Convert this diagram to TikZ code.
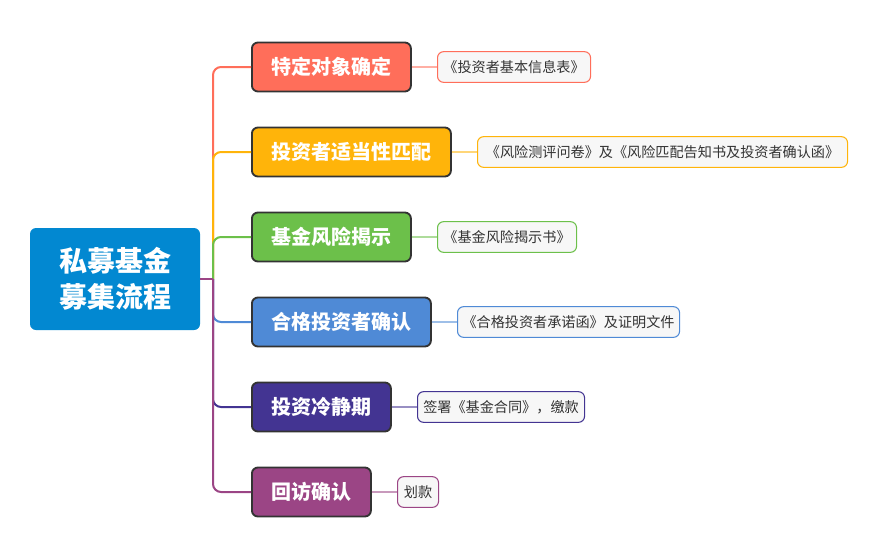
\documentclass[tikz,border=0pt]{standalone}
\usepackage{fontspec}
\newfontfamily\cjk{Noto Sans CJK SC}
\definecolor{rootc}{HTML}{0288D1}
\definecolor{c1}{HTML}{FF6E5A}
\definecolor{c2}{HTML}{FFB40A}
\definecolor{c3}{HTML}{6CC04A}
\definecolor{c4}{HTML}{4F8AD6}
\definecolor{c5}{HTML}{433492}
\definecolor{c6}{HTML}{9B4585}
\definecolor{leaffill}{HTML}{F7F7F7}
\definecolor{leaftext}{HTML}{333333}
\definecolor{bord}{HTML}{333333}
\begin{document}
\begin{tikzpicture}[x=0.75pt,y=-0.75pt,
  rootbox/.style={fill=rootc, rounded corners=4.5pt, minimum width=127.5pt, minimum height=76.5pt,
    text=white, font=\cjk\bfseries\fontsize{21}{27}\selectfont, align=center, inner sep=0pt},
  branchbox/.style={draw=bord, fill=#1, line width=1.4pt, rounded corners=4.5pt, minimum height=36.75pt,
    text=white, font=\cjk\bfseries\fontsize{15}{18}\selectfont, inner sep=0pt, anchor=west},
  leafbox/.style={draw=#1, fill=leaffill, line width=0.8pt, rounded corners=4.5pt, minimum height=23pt,
    text=leaftext, font=\cjk\fontsize{10.6}{12}\selectfont, inner sep=0pt, anchor=west},
  spine/.style={draw=#1, line width=1.5pt, rounded corners=6pt},
  twig/.style={draw=#1!55, line width=1.5pt}
]
\useasboundingbox (0,0) rectangle (895,546);

\node[rootbox] (root) at (115,279) {私募基金\\募集流程};
\coordinate (j) at (213,279);

\node[branchbox=c1, minimum width=119.25pt] (b1) at (251,67) {特定对象确定};
\node[branchbox=c2, minimum width=149.25pt] (b2) at (251,152) {投资者适当性匹配};
\node[branchbox=c3, minimum width=119.25pt] (b3) at (251,237) {基金风险揭示};
\node[branchbox=c4, minimum width=134.25pt] (b4) at (251,322) {合格投资者确认};
\node[branchbox=c5, minimum width=104.25pt] (b5) at (251,407) {投资冷静期};
\node[branchbox=c6, minimum width=89.25pt] (b6) at (251,492) {回访确认};

\node[leafbox=c1, minimum width=114.75pt] (l1) at (437,67) {《投资者基本信息表》};
\node[leafbox=c2, minimum width=277.5pt] (l2) at (477,152) {《风险测评问卷》及《风险匹配告知书及投资者确认函》};
\node[leafbox=c3, minimum width=104.25pt] (l3) at (437,237) {《基金风险揭示书》};
\node[leafbox=c4, minimum width=166.5pt] (l4) at (457,322) {《合格投资者承诺函》及证明文件};
\node[leafbox=c5, minimum width=125.25pt] (l5) at (417,407) {签署《基金合同》，缴款};
\node[leafbox=c6, minimum width=30.75pt] (l6) at (397,492) {划款};

\draw[spine=c1] (j) |- (b1.west);
\draw[spine=c2] (j) |- (b2.west);
\draw[spine=c3] (j) |- (b3.west);
\draw[spine=c4] (j) |- (b4.west);
\draw[spine=c5] (j) |- (b5.west);
\draw[spine=c6] (j) |- (b6.west);
\draw[draw=c6, line width=1.5pt] (root.east) -- (j);

\draw[twig=c1] (b1.east) -- (l1.west);
\draw[twig=c2] (b2.east) -- (l2.west);
\draw[twig=c3] (b3.east) -- (l3.west);
\draw[twig=c4] (b4.east) -- (l4.west);
\draw[twig=c5] (b5.east) -- (l5.west);
\draw[twig=c6] (b6.east) -- (l6.west);
\end{tikzpicture}
\end{document}
